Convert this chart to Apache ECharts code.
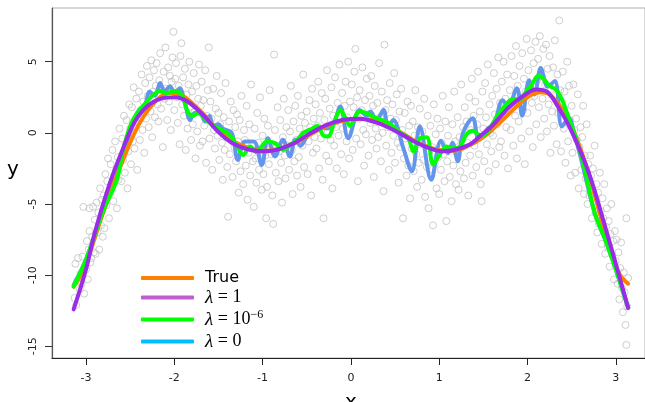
<!DOCTYPE html>
<html>
<head>
<meta charset="utf-8">
<script src="https://cdn.jsdelivr.net/npm/echarts@6/dist/echarts.min.js"></script>
<style>html,body{margin:0;padding:0;background:#fff}#c{width:645px;height:402px}</style>
</head>
<body>
<div id="c"></div>
<script>
const xTicks = [-3, -2, -1, 0, 1, 2, 3];
const yTicks = [-15, -10, -5, 0, 5];
const seriesNames = ['True', 'λ = 1', 'λ = 10^-6', 'λ = 0'];

const trueCurve = [[-3.14,-10.8],[-3.05,-9.9],[-2.95,-8.3],[-2.8,-5.5],[-2.6,-2.2],[-2.4,0.6],[-2.2,2.3],[-2.05,2.8],[-1.9,2.6],[-1.7,1.5],[-1.5,0.2],[-1.3,-0.7],[-1.1,-1.15],[-0.95,-1.25],[-0.8,-1.1],[-0.6,-0.6],[-0.4,0.1],[-0.2,0.65],[0,0.95],[0.1,1.0],[0.2,0.95],[0.4,0.6],[0.6,-0.1],[0.8,-0.8],[1.0,-1.2],[1.15,-1.25],[1.3,-1.0],[1.5,-0.3],[1.7,0.8],[1.9,2.0],[2.05,2.7],[2.15,2.85],[2.25,2.7],[2.4,1.6],[2.55,-0.3],[2.7,-3.0],[2.85,-6.4],[2.95,-8.6],[3.05,-10.0],[3.14,-10.6]];

const lambda1Curve = [[-3.14,-12.4],[-3.0,-9.6],[-2.9,-7.0],[-2.75,-3.9],[-2.6,-1.4],[-2.45,0.75],[-2.3,1.9],[-2.15,2.4],[-2.0,2.5],[-1.85,2.2],[-1.65,1.1],[-1.5,0.05],[-1.35,-0.7],[-1.2,-1.1],[-1.0,-1.3],[-0.85,-1.2],[-0.65,-0.75],[-0.45,0.0],[-0.28,0.55],[-0.1,0.9],[0.1,1.0],[0.3,0.7],[0.5,0.15],[0.7,-0.55],[0.88,-1.05],[1.05,-1.3],[1.2,-1.15],[1.35,-0.8],[1.45,-0.3],[1.6,0.5],[1.8,1.85],[2.0,2.8],[2.1,3.05],[2.22,2.9],[2.35,1.8],[2.5,0.1],[2.7,-2.9],[2.88,-6.6],[3.03,-9.85],[3.14,-12.3]];

const lambdaSmallCurve = [[-3.14,-10.8],[-3.0,-8.9],[-2.8,-5.4],[-2.65,-3.3],[-2.58,-1.2],[-2.47,0.9],[-2.31,2.2],[-2.16,2.95],[-2.09,2.8],[-1.99,2.95],[-1.92,2.7],[-1.84,1.4],[-1.79,1.2],[-1.73,1.4],[-1.67,1.1],[-1.58,0.6],[-1.5,0.3],[-1.41,0.05],[-1.35,-0.3],[-1.29,-0.9],[-1.22,-1.55],[-1.14,-0.96],[-1.07,-1.35],[-0.95,-0.61],[-0.86,-0.72],[-0.77,-1.2],[-0.69,-0.84],[-0.61,-0.49],[-0.54,0.0],[-0.43,0.33],[-0.38,0.5],[-0.31,-0.2],[-0.26,-0.26],[-0.18,0.9],[-0.12,1.6],[-0.07,1.15],[-0.01,0.5],[0.06,1.26],[0.1,1.5],[0.18,1.38],[0.25,1.14],[0.33,0.95],[0.44,0.65],[0.55,0.05],[0.65,-0.4],[0.71,-1.3],[0.78,-0.4],[0.86,-0.3],[0.93,-2.2],[1.01,-1.5],[1.08,-0.96],[1.16,-1.08],[1.23,-1.0],[1.31,-0.1],[1.38,0.15],[1.44,-0.1],[1.5,-0.2],[1.57,0.3],[1.65,1.1],[1.72,1.7],[1.84,2.4],[1.91,2.3],[1.99,2.95],[2.05,3.4],[2.12,4.0],[2.18,3.8],[2.25,3.3],[2.33,3.0],[2.4,2.2],[2.48,0.8],[2.54,-0.2],[2.65,-2.6],[2.76,-5.6],[2.88,-7.5],[2.99,-9.4],[3.14,-12.3]];

const lambda0Curve = [[-3.14,-10.7],[-3.0,-8.9],[-2.8,-5.4],[-2.7,-3.8],[-2.65,-3.0],[-2.6,-2.0],[-2.55,-0.9],[-2.47,0.6],[-2.4,1.6],[-2.33,2.0],[-2.28,2.9],[-2.22,2.6],[-2.16,3.5],[-2.11,2.9],[-2.05,3.25],[-1.99,2.8],[-1.94,3.14],[-1.88,2.1],[-1.82,0.9],[-1.77,1.4],[-1.71,1.4],[-1.65,0.8],[-1.6,1.2],[-1.56,0.45],[-1.5,0.6],[-1.45,0.3],[-1.35,0.0],[-1.28,-1.9],[-1.2,-0.6],[-1.1,-0.6],[-1.01,-2.25],[-0.94,-0.37],[-0.86,-1.66],[-0.77,-0.49],[-0.69,-1.66],[-0.63,-0.49],[-0.57,-0.9],[-0.5,-0.26],[-0.43,0.3],[-0.35,0.4],[-0.28,0.3],[-0.2,0.6],[-0.12,1.85],[-0.03,-0.37],[0.1,1.6],[0.18,1.2],[0.22,1.5],[0.29,0.9],[0.37,1.6],[0.42,0.44],[0.48,0.9],[0.59,-1.0],[0.69,-2.7],[0.78,0.44],[0.91,-3.3],[1.02,-0.55],[1.1,-1.43],[1.15,-0.7],[1.21,-2.0],[1.27,0.0],[1.38,1.03],[1.45,-0.49],[1.55,0.3],[1.62,0.6],[1.72,2.3],[1.78,1.8],[1.88,3.14],[1.94,1.2],[2.02,3.7],[2.08,2.7],[2.15,4.55],[2.23,3.25],[2.31,3.65],[2.39,0.44],[2.47,1.03],[2.52,0.2],[2.61,-1.9],[2.76,-5.6],[2.88,-7.5],[2.99,-9.4],[3.14,-12.3]];

const observations = [
[-3.13,-11.6],[-3.12,-9.2],[-3.11,-12.1],[-3.1,-10.4],[-3.09,-8.8],[-3.07,-11.0],[-3.06,-9.9],[-3.05,-10.6],[-3.04,-8.7],[-3.02,-11.3],[-3.03,-5.2],[-2.96,-5.3],
[-3.0,-9.6],[-2.99,-7.6],[-2.98,-10.3],[-2.97,-8.2],[-2.96,-6.9],[-2.95,-9.1],[-2.94,-8.8],[-2.93,-7.3],[-2.92,-5.2],[-2.91,-8.4],
[-2.9,-6.1],[-2.89,-8.5],[-2.88,-4.9],[-2.87,-7.0],[-2.86,-5.6],[-2.85,-8.2],[-2.84,-3.9],[-2.83,-6.5],[-2.82,-4.7],[-2.81,-7.3],
[-2.8,-4.4],[-2.79,-6.7],[-2.78,-2.9],[-2.77,-5.1],[-2.76,-3.4],[-2.75,-1.8],[-2.74,-6.0],[-2.73,-4.3],[-2.72,-2.2],[-2.71,-3.6],
[-2.7,-1.2],[-2.69,-4.8],[-2.68,-3.0],[-2.67,-0.6],[-2.66,-2.6],[-2.65,-5.3],[-2.64,-1.7],[-2.63,-3.3],[-2.62,0.3],[-2.61,-2.0],
[-2.6,-3.4],[-2.59,-0.4],[-2.58,-1.9],[-2.57,1.2],[-2.56,-2.8],[-2.55,-0.8],[-2.54,0.9],[-2.53,-3.9],[-2.52,-1.3],[-2.51,2.0],
[-2.5,0.3],[-2.49,-2.2],[-2.48,1.8],[-2.47,-0.6],[-2.46,3.2],[-2.45,-1.1],[-2.44,0.8],[-2.43,2.4],[-2.42,-2.6],[-2.41,1.3],
[-2.4,2.9],[-2.39,-0.5],[-2.38,1.6],[-2.37,4.1],[-2.36,0.2],[-2.35,2.2],[-2.34,-1.4],[-2.33,3.5],[-2.32,1.0],[-2.31,4.7],
[-2.3,2.6],[-2.29,0.4],[-2.28,3.9],[-2.27,1.5],[-2.26,5.1],[-2.25,-0.3],[-2.24,2.9],[-2.23,4.4],[-2.22,1.1],[-2.21,3.3],
[-2.2,4.9],[-2.19,2.0],[-2.18,0.8],[-2.17,3.7],[-2.16,5.6],[-2.15,1.7],[-2.14,3.0],[-2.13,-1.0],[-2.12,4.3],[-2.11,2.4],
[-2.1,6.0],[-2.09,3.1],[-2.08,0.9],[-2.07,4.6],[-2.06,2.2],[-2.05,4.0],[-2.04,0.2],[-2.03,3.6],[-2.02,5.3],[-2.01,7.1],
[-2.0,1.6],[-1.99,3.8],[-1.98,4.9],[-1.97,2.5],[-1.96,0.7],[-1.95,3.3],[-1.94,-0.8],[-1.93,5.4],[-1.92,6.3],[-1.91,2.0],
[-1.9,3.9],[-1.89,1.2],[-1.88,4.5],[-1.87,-1.2],[-1.86,2.7],[-1.85,0.3],[-1.84,3.4],[-1.83,5.0],[-1.82,1.8],[-1.81,-0.5],
[-1.8,2.9],[-1.79,0.6],[-1.78,4.2],[-1.77,1.5],[-1.76,-1.8],[-1.75,3.3],[-1.74,0.1],[-1.73,2.4],[-1.72,4.8],[-1.71,-0.9],
[-1.7,1.9],[-1.69,3.6],[-1.68,-0.6],[-1.67,2.3],[-1.66,0.5],[-1.65,4.4],[-1.64,-2.1],[-1.63,1.2],[-1.62,3.0],[-1.61,6.0],
[-1.6,-0.4],[-1.59,2.2],[-1.58,1.0],[-1.57,-2.6],[-1.56,3.1],[-1.55,0.2],[-1.54,-1.1],[-1.53,1.7],[-1.52,4.0],[-1.51,-0.2],
[-1.5,1.4],[-1.49,-1.9],[-1.48,0.6],[-1.47,2.8],[-1.46,-0.7],[-1.45,-3.3],[-1.44,1.1],[-1.43,-1.2],[-1.42,3.5],[-1.41,0.0],
[-1.4,-2.4],[-1.39,-5.9],[-1.38,0.8],[-1.37,-1.5],[-1.36,2.2],[-1.35,-0.4],[-1.34,-3.1],[-1.33,1.6],[-1.32,-1.0],[-1.31,0.4],
[-1.3,-2.0],[-1.29,1.3],[-1.28,-0.6],[-1.27,-4.2],[-1.26,0.9],[-1.25,-2.7],[-1.24,2.6],[-1.23,-1.3],[-1.22,-3.6],[-1.21,0.2],
[-1.2,-0.5],[-1.19,-2.3],[-1.18,1.9],[-1.17,-4.7],[-1.16,-1.4],[-1.15,0.6],[-1.14,-3.0],[-1.13,3.4],[-1.12,-0.9],[-1.11,-2.0],
[-1.1,-5.2],[-1.09,0.3],[-1.08,-1.8],[-1.07,-3.5],[-1.06,1.4],[-1.05,-0.7],[-1.04,-2.6],[-1.03,2.5],[-1.02,-1.2],[-1.01,-4.0],
[-1.0,-0.2],[-0.99,-2.9],[-0.98,1.0],[-0.97,-1.6],[-0.96,-6.0],[-0.95,-3.8],[-0.94,0.5],[-0.93,-2.2],[-0.92,3.0],[-0.91,-0.8],
[-0.9,-1.5],[-0.89,-4.4],[-0.88,-6.4],[-0.87,5.5],[-0.86,0.2],[-0.85,-2.8],[-0.84,-0.9],[-0.83,1.8],[-0.82,-3.4],[-0.81,-1.3],
[-0.8,0.9],[-0.79,-2.1],[-0.78,-4.9],[-0.77,-0.3],[-0.76,2.4],[-0.75,-1.6],[-0.74,-3.2],[-0.73,0.4],[-0.72,-0.9],[-0.71,1.6],
[-0.7,-2.6],[-0.69,0.1],[-0.68,3.3],[-0.67,-1.2],[-0.66,-4.3],[-0.65,0.8],[-0.64,-2.0],[-0.63,1.9],[-0.62,-0.5],[-0.61,-3.0],
[-0.6,2.6],[-0.59,-1.7],[-0.58,0.3],[-0.57,-3.8],[-0.56,1.2],[-0.55,-0.9],[-0.54,4.1],[-0.53,-2.4],[-0.52,0.7],[-0.51,-0.2],
[-0.5,1.5],[-0.49,-2.9],[-0.48,-0.6],[-0.47,2.3],[-0.46,0.4],[-0.45,-4.4],[-0.44,3.1],[-0.43,-1.4],[-0.42,1.0],[-0.41,-0.3],
[-0.4,2.0],[-0.39,-1.1],[-0.38,0.5],[-0.37,3.6],[-0.36,-2.5],[-0.35,1.4],[-0.34,-0.4],[-0.33,2.8],[-0.32,-3.3],[-0.31,-6.0],
[-0.3,0.9],[-0.29,2.4],[-0.28,-1.6],[-0.27,4.4],[-0.26,0.1],[-0.25,-2.0],[-0.24,1.7],[-0.23,-0.5],[-0.22,3.2],[-0.21,-3.9],
[-0.2,1.2],[-0.19,-0.9],[-0.18,3.9],[-0.17,0.4],[-0.16,-2.5],[-0.15,2.1],[-0.14,-0.2],[-0.13,4.8],[-0.12,1.5],[-0.11,-1.5],
[-0.1,2.8],[-0.09,0.3],[-0.08,-2.9],[-0.07,1.9],[-0.06,3.6],[-0.05,-0.6],[-0.04,1.1],[-0.03,5.0],[-0.02,-1.8],[-0.01,2.2],
[0.0,0.6],[0.01,3.4],[0.02,-1.2],[0.03,1.8],[0.04,4.3],[0.05,5.9],[0.06,-0.4],[0.07,2.5],[0.08,-3.4],[0.09,1.0],
[0.1,3.0],[0.11,-0.8],[0.12,1.6],[0.13,4.6],[0.14,0.2],[0.15,-2.3],[0.16,2.3],[0.17,-0.1],[0.18,3.8],[0.19,1.3],
[0.2,-1.6],[0.21,2.6],[0.22,0.7],[0.23,4.0],[0.24,-0.5],[0.25,1.9],[0.26,-3.1],[0.27,3.3],[0.28,0.3],[0.29,-1.1],
[0.3,2.1],[0.31,-0.3],[0.32,4.9],[0.33,1.1],[0.34,-2.0],[0.35,2.9],[0.36,0.0],[0.37,-4.1],[0.38,6.2],[0.39,1.6],
[0.4,-0.9],[0.41,2.3],[0.42,0.4],[0.43,-2.6],[0.44,3.5],[0.45,1.0],[0.46,-1.4],[0.47,2.0],[0.48,-0.2],[0.49,4.2],
[0.5,-2.1],[0.51,0.9],[0.52,2.7],[0.53,-0.7],[0.54,-3.5],[0.55,1.5],[0.56,-1.0],[0.57,3.1],[0.58,0.2],[0.59,-6.0],
[0.6,-1.8],[0.61,1.4],[0.62,-0.4],[0.63,-3.0],[0.64,2.2],[0.65,-2.3],[0.66,0.5],[0.67,-4.6],[0.68,1.9],[0.69,-1.1],
[0.7,0.8],[0.71,-2.7],[0.72,-0.2],[0.73,3.0],[0.74,-1.5],[0.75,-3.8],[0.76,0.4],[0.77,-2.1],[0.78,1.7],[0.79,-0.8],
[0.8,-3.3],[0.81,0.1],[0.82,-1.9],[0.83,2.4],[0.84,-4.5],[0.85,-0.6],[0.86,-2.4],[0.87,1.2],[0.88,-5.3],[0.89,-1.3],
[0.9,0.5],[0.91,-3.0],[0.92,-1.0],[0.93,-6.5],[0.94,2.0],[0.95,-2.2],[0.96,-0.1],[0.97,-3.9],[0.98,1.0],[0.99,-1.7],
[1.0,-4.3],[1.01,0.3],[1.02,-2.6],[1.03,-0.7],[1.04,2.6],[1.05,-1.5],[1.06,-3.4],[1.07,0.8],[1.08,-6.2],[1.09,-2.0],
[1.1,-0.2],[1.11,1.8],[1.12,-3.1],[1.13,-1.1],[1.14,-4.8],[1.15,0.6],[1.16,-2.3],[1.17,2.9],[1.18,-0.6],[1.19,-3.6],
[1.2,-1.4],[1.21,1.1],[1.22,-4.0],[1.23,-0.3],[1.24,-2.7],[1.25,3.4],[1.26,-1.0],[1.27,0.4],[1.28,-3.2],[1.29,1.8],
[1.3,-2.1],[1.31,0.8],[1.32,-0.7],[1.33,-4.4],[1.34,2.5],[1.35,-1.6],[1.36,0.2],[1.37,3.8],[1.38,-3.0],[1.39,1.2],
[1.4,-0.9],[1.41,2.2],[1.42,-2.4],[1.43,0.6],[1.44,4.3],[1.45,-1.5],[1.46,1.5],[1.47,-3.6],[1.48,-4.8],[1.49,2.9],
[1.5,0.3],[1.51,-2.0],[1.52,3.5],[1.53,1.1],[1.54,-0.8],[1.55,4.8],[1.56,-2.7],[1.57,2.0],[1.58,0.0],[1.59,-1.3],
[1.6,2.6],[1.61,-0.2],[1.62,4.2],[1.63,1.3],[1.64,-2.2],[1.65,3.1],[1.66,0.6],[1.67,5.3],[1.68,-1.0],[1.69,2.1],
[1.7,-0.6],[1.71,3.6],[1.72,1.5],[1.73,5.0],[1.74,-1.6],[1.75,2.4],[1.76,0.4],[1.77,4.1],[1.78,-2.5],[1.79,1.9],
[1.8,3.0],[1.81,0.2],[1.82,5.4],[1.83,2.2],[1.84,-0.9],[1.85,4.0],[1.86,1.2],[1.87,6.1],[1.88,-1.8],[1.89,3.3],
[1.9,0.8],[1.91,4.7],[1.92,2.5],[1.93,-0.4],[1.94,5.6],[1.95,1.6],[1.96,3.8],[1.97,-2.2],[1.98,2.9],[1.99,6.6],
[2.0,1.4],[2.01,4.4],[2.02,0.1],[2.03,3.2],[2.04,5.8],[2.05,2.1],[2.06,-1.0],[2.07,4.9],[2.08,2.6],[2.09,6.4],
[2.1,0.6],[2.11,3.7],[2.12,5.2],[2.13,1.8],[2.14,6.8],[2.15,-0.3],[2.16,4.0],[2.17,2.4],[2.18,5.9],[2.19,1.0],
[2.2,3.4],[2.21,6.2],[2.22,0.1],[2.23,4.5],[2.24,2.0],[2.25,5.4],[2.26,-1.4],[2.27,3.1],[2.28,1.5],[2.29,4.6],
[2.3,0.5],[2.31,6.5],[2.32,2.6],[2.33,-0.8],[2.34,4.1],[2.35,1.4],[2.36,7.9],[2.37,3.0],[2.38,-1.3],[2.39,2.2],
[2.4,4.3],[2.41,0.3],[2.42,2.9],[2.43,-2.1],[2.44,1.2],[2.45,5.0],[2.46,-0.6],[2.47,3.3],[2.48,0.9],[2.49,-3.0],
[2.5,1.9],[2.51,-1.4],[2.52,3.4],[2.53,0.2],[2.54,-2.8],[2.55,1.0],[2.56,-0.5],[2.57,2.7],[2.58,-3.9],[2.59,-1.0],
[2.6,0.4],[2.61,-2.6],[2.62,-0.3],[2.63,1.9],[2.64,-4.3],[2.65,-1.6],[2.66,-3.2],[2.67,0.6],[2.68,-5.0],[2.69,-2.2],
[2.7,-4.4],[2.71,-1.6],[2.72,-3.0],[2.73,-6.0],[2.74,-2.5],[2.75,-4.8],[2.76,-0.9],[2.77,-5.6],[2.78,-3.6],[2.79,-7.0],
[2.8,-4.2],[2.81,-6.4],[2.82,-2.8],[2.83,-5.5],[2.84,-7.8],[2.85,-4.6],[2.86,-6.0],[2.87,-3.6],[2.88,-8.5],[2.89,-6.6],
[2.9,-5.3],[2.91,-8.0],[2.92,-6.2],[2.93,-9.4],[2.94,-7.1],[2.95,-5.0],[2.96,-8.6],[2.97,-7.6],[2.98,-10.3],[2.99,-6.9],
[3.0,-9.0],[3.01,-7.5],[3.02,-10.6],[3.03,-8.4],[3.04,-11.7],[3.05,-9.5],[3.06,-7.7],[3.07,-10.9],[3.08,-12.6],[3.09,-9.8],
[3.1,-11.2],[3.11,-13.5],[3.12,-14.9],[3.13,-12.2],[3.14,-10.2],[3.12,-6.0]
];

const chart = echarts.init(document.getElementById('c'), null, {renderer: 'canvas'});

const lineSeries = (name, data, color) => ({
  name, type: 'line', data, showSymbol: false, symbol: 'none',
  smooth: 0.35, silent: true,
  lineStyle: {color, width: 4, cap: 'round', join: 'round'},
  itemStyle: {color}
});

const legendText = {
  'True': '{s|True}',
  'λ = 1': '{l|λ}{m| = 1}',
  'λ = 10^-6': '{l|λ}{m| = 10}{sup|−6}',
  'λ = 0': '{l|λ}{m| = 0}'
};

chart.setOption({
  animation: false,
  backgroundColor: '#fff',
  grid: {left: 52, top: 8, right: -1, bottom: 44, show: true, borderColor: '#b0b0b0', borderWidth: 1},
  xAxis: {
    type: 'value', min: -3.385, max: 3.331,
    axisLine: {show: true, onZero: false, lineStyle: {color: '#222', width: 1.2}},
    axisTick: {show: true, customValues: xTicks, length: 7, lineStyle: {color: '#222'}},
    axisLabel: {customValues: xTicks, margin: 15, fontSize: 11, fontFamily: 'DejaVu Sans', color: '#222'},
    splitLine: {show: false}
  },
  yAxis: {
    type: 'value', min: -15.82, max: 8.774,
    axisLine: {show: true, onZero: false, lineStyle: {color: '#555', width: 1.2}},
    axisTick: {show: true, customValues: yTicks, length: 7, lineStyle: {color: '#333'}},
    axisLabel: {customValues: yTicks, rotate: 90, margin: 13, fontSize: 11, fontFamily: 'DejaVu Sans', color: '#222'},
    splitLine: {show: false}
  },
  legend: {
    orient: 'vertical', left: 136, top: 265,
    itemWidth: 53, itemHeight: 4, itemGap: 2, icon: 'roundRect',
    selectedMode: false,
    data: [
      {name: 'True', itemStyle: {color: '#ff8000'}},
      {name: 'λ = 1', itemStyle: {color: '#bf5fd0'}},
      {name: 'λ = 10^-6', itemStyle: {color: '#00ff00'}},
      {name: 'λ = 0', itemStyle: {color: '#00bfff'}}
    ],
    formatter: n => legendText[n],
    textStyle: {
      padding: [0, 0, 0, 6],
      rich: {
        s: {fontFamily: 'DejaVu Sans', fontSize: 16, color: '#000', lineHeight: 21},
        l: {fontFamily: 'Liberation Serif', fontStyle: 'italic', fontSize: 19, color: '#000', lineHeight: 21},
        m: {fontFamily: 'Liberation Serif', fontSize: 18, color: '#000', lineHeight: 21},
        sup: {fontFamily: 'Liberation Serif', fontSize: 12, color: '#000', verticalAlign: 'top', padding: [0, 0, 9, 0], lineHeight: 21}
      }
    }
  },
  graphic: [
    {type: 'text', left: 7, top: 160, style: {text: 'y', fontSize: 20, fontFamily: 'DejaVu Sans', fill: '#000'}},
    {type: 'text', left: 345, top: 393, style: {text: 'x', fontSize: 20, fontFamily: 'DejaVu Sans', fill: '#000'}}
  ],
  series: [
    {
      name: 'obs', type: 'scatter', data: observations, symbol: 'circle', symbolSize: 7, silent: true,
      itemStyle: {color: 'rgba(0,0,0,0)', borderColor: '#c2c2c2', borderWidth: 1}
    },
    lineSeries('λ = 0', lambda0Curve, '#6495ed'),
    lineSeries('True', trueCurve, '#ff8000'),
    lineSeries('λ = 10^-6', lambdaSmallCurve, '#00ff00'),
    lineSeries('λ = 1', lambda1Curve, '#9a2be8')
  ]
});
</script>
</body>
</html>
